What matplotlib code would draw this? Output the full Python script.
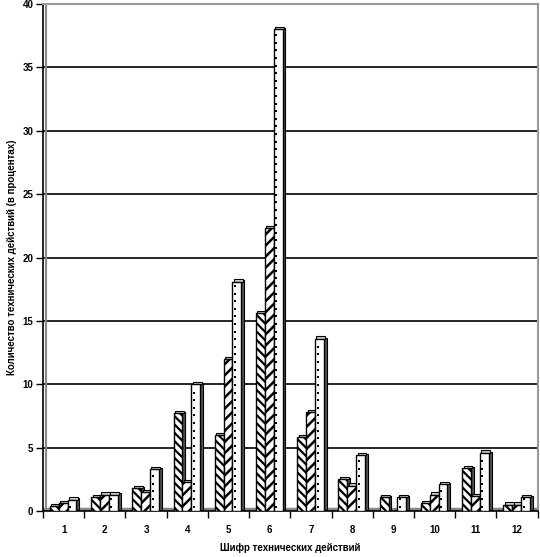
import matplotlib
matplotlib.use("Agg")
import matplotlib.pyplot as plt
import numpy as np

categories = ["1", "2", "3", "4", "5", "6", "7", "8", "9", "10", "11", "12"]
series_a = [0.4, 1.1, 1.8, 7.7, 6.0, 15.6, 5.8, 2.5, 1.1, 0.6, 3.4, 0.5]
series_b = [0.6, 1.3, 1.5, 2.3, 12.0, 22.3, 7.8, 2.0, 0.0, 1.3, 1.2, 0.5]
series_c = [0.9, 1.3, 3.3, 10.0, 18.1, 38.0, 13.6, 4.4, 1.1, 2.1, 4.6, 1.1]
yticks = [0, 5, 10, 15, 20, 25, 30, 35, 40]

plt.rcParams['font.family'] = ['Liberation Sans', 'DejaVu Sans']

fig = plt.figure(figsize=(5.40, 5.57), dpi=100)
ax = fig.add_axes([0.0796, 0.0826, 0.916, 0.910])

x = np.arange(1, len(categories) + 1)
w = 0.215
dx = 0.07
dy = 0.18
offsets = [-0.225, -0.01, 0.205]
hatches = ['\\\\\\\\', '///', None]
hatch_lws = [1.6, 1.8, 1.0]
series = [series_a, series_b, series_c]

for k, (vals, off, hat, hlw) in enumerate(zip(series, offsets, hatches, hatch_lws)):
    vals = np.array(vals)
    mask = vals > 0
    xs = x[mask] + off
    hv = vals[mask]
    z = 3 + k * 3
    plt.rcParams['hatch.linewidth'] = hlw
    # side face
    ax.bar(xs + w / 2 + dx / 2, hv, width=dx, bottom=dy * 0.5, color='#555555',
           edgecolor='black', linewidth=0.8, zorder=z)
    # top face
    ax.bar(xs + dx / 2, np.full_like(hv, dy), width=w, bottom=hv,
           color='#d0d0d0', edgecolor='black', linewidth=0.8, zorder=z + 1)
    # front face
    ax.bar(xs, hv, width=w, color='white', edgecolor='black', hatch=hat,
           linewidth=1.0, zorder=z + 2)
    if hat is None:
        # sparse dotted texture along the bar
        for xi, hi in zip(xs, hv):
            ys = np.arange(0.35, hi - 0.15, 0.6)
            ax.scatter(np.full_like(ys, xi - w * 0.2), ys, s=1.2, color='black',
                       marker='s', linewidths=0, zorder=z + 2.5)

ax.set_xlim(0.5, 12.5)
ax.set_ylim(0, 40)

for yv in yticks[1:-1]:
    ax.axhline(yv, color='black', linewidth=1.2, zorder=1)
ax.axhline(0.12, color='#888888', linewidth=2.5, zorder=2)

ax.set_yticks(yticks)
ax.set_yticklabels([str(v) for v in yticks], fontsize=7, fontweight='bold')
ax.set_xticks(x)
ax.set_xticklabels(categories, fontsize=7, fontweight='bold')
ax.tick_params(axis='x', length=0, pad=10)
ax.set_xticks(np.arange(0.5, 12.6, 1.0), minor=True)
ax.tick_params(axis='x', which='minor', length=5, width=1, direction='out')
ax.tick_params(axis='y', length=5, width=1, direction='out', pad=2)

ax.spines['left'].set_color('black')
ax.spines['left'].set_linewidth(1.2)
ax.spines['bottom'].set_color('black')
ax.spines['bottom'].set_linewidth(1.2)
ax.spines['top'].set_color('#999999')
ax.spines['top'].set_linewidth(1.5)
ax.spines['right'].set_color('#999999')
ax.spines['right'].set_linewidth(1.5)
ax.axvline(0.57, color='#888888', linewidth=1.5, zorder=2)

ax.set_xlabel('Шифр технических действий', fontsize=7, fontweight='bold', labelpad=6)
ax.set_ylabel('Количество технических действий (в процентах)', fontsize=7,
              fontweight='bold', labelpad=4)

fig.savefig('out.png', dpi=100)
